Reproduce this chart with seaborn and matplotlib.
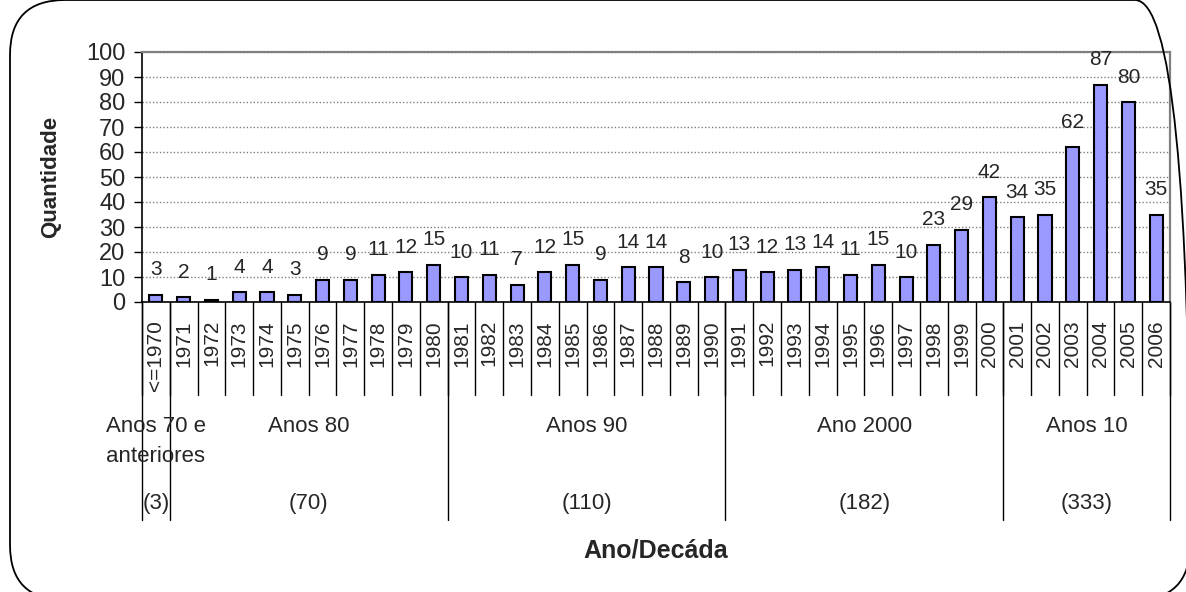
import numpy as np
import pandas as pd
import seaborn as sns
import matplotlib.pyplot as plt
from matplotlib.patches import FancyBboxPatch

# data
anos = ['<=1970'] + [str(a) for a in range(1971, 2007)]
quantidade = [3, 2, 1, 4, 4, 3, 9, 9, 11, 12, 15,
              10, 11, 7, 12, 15, 9, 14, 14, 8, 10,
              13, 12, 13, 14, 11, 15, 10, 23, 29, 42,
              34, 35, 62, 87, 80, 35]
decadas = ['Anos 70 e\nanteriores', 'Anos 80', 'Anos 90', 'Ano 2000', 'Anos 10']
decada_inicio = [0, 1, 11, 21, 31]
decada_fim = [1, 11, 21, 31, 37]
decada_total = [sum(quantidade[a:b]) for a, b in zip(decada_inicio, decada_fim)]

sns.set_style('white')
plt.rcParams['font.family'] = ['Liberation Sans', 'DejaVu Sans']

df = pd.DataFrame({'ano': anos, 'quantidade': quantidade})

fig = plt.figure(figsize=(11.86, 5.92), dpi=100)
ax = fig.add_axes([142/1186, 290/592, 1028/1186, 250/592])

sns.barplot(data=df, x='ano', y='quantidade', color='#9999FF', saturation=1,
            edgecolor='black', linewidth=1.5, width=0.47, ax=ax, zorder=3)

ax.set_xlim(-0.5, len(anos) - 0.5)
ax.set_ylim(0, 100)
ax.set_yticks(range(0, 101, 10))
ax.tick_params(axis='y', labelsize=17, length=6, width=1, color='black',
               direction='out', pad=6, left=True)
ax.set_xticks(range(len(anos)))
ax.set_xticklabels(anos, rotation=90, fontsize=15)
ax.tick_params(axis='x', length=0, pad=13)
ax.set_xlabel('')
ax.set_ylabel('Quantidade', fontsize=16, fontweight='bold', labelpad=18)

ax.set_axisbelow(True)
ax.yaxis.grid(True, linestyle=(0, (1, 1.5)), color='#808080', linewidth=1)
ax.xaxis.grid(False)

for s in ['left', 'bottom']:
    ax.spines[s].set_color('black')
    ax.spines[s].set_linewidth(1.2)
for s in ['top', 'right']:
    ax.spines[s].set_color('#808080')
    ax.spines[s].set_linewidth(1.6)

# value labels
for i, v in enumerate(quantidade):
    ax.annotate(str(v), (i, v), xytext=(0, 14), textcoords='offset points',
                ha='center', va='baseline', fontsize=15)

# category separators and decade separators
trans = ax.get_xaxis_transform()
for k in range(len(anos) + 1):
    ax.plot([k - 0.5, k - 0.5], [0, -0.37], transform=trans, color='black',
            lw=1, clip_on=False)
for b in [0] + decada_fim:
    ax.plot([b - 0.5, b - 0.5], [0, -0.872], transform=trans, color='black',
            lw=1, clip_on=False)

for nome, a, b, tot in zip(decadas, decada_inicio, decada_fim, decada_total):
    xc = (a + b - 1) / 2
    ax.text(xc, -0.455, nome, transform=trans, ha='center', va='top',
            fontsize=16, linespacing=1.55, clip_on=False)
    ax.text(xc, -0.804, f'({tot})', transform=trans, ha='center', va='center',
            fontsize=16, clip_on=False)

fig.text(656/1186, 1 - 550/592, 'Ano/Decáda', ha='center', va='center',
         fontsize=18, fontweight='bold')

# rounded outer frame (in inches, dpi 100)
frame = FancyBboxPatch((0.10, -0.08), 11.80, 6.00, transform=fig.dpi_scale_trans,
                       boxstyle='round,pad=0,rounding_size=0.55',
                       facecolor='none', edgecolor='black', linewidth=1.3)
fig.patches.append(frame)

fig.savefig('out.png', dpi=100)
